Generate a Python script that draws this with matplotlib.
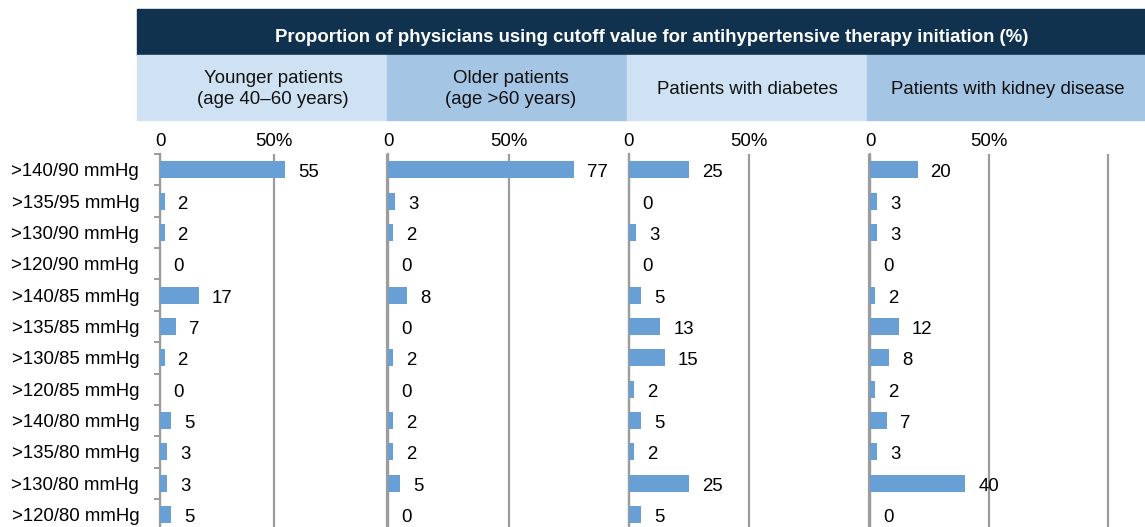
import matplotlib.pyplot as plt
from matplotlib.patches import Rectangle
from matplotlib.ticker import FixedLocator

plt.rcParams['font.family'] = ['Liberation Sans', 'DejaVu Sans']

# Categories (cutoff values) and percentages per patient group
cutoffs = ['>140/90 mmHg', '>135/95 mmHg', '>130/90 mmHg', '>120/90 mmHg',
           '>140/85 mmHg', '>135/85 mmHg', '>130/85 mmHg', '>120/85 mmHg',
           '>140/80 mmHg', '>135/80 mmHg', '>130/80 mmHg', '>120/80 mmHg']
younger = [55, 2, 2, 0, 17, 7, 2, 0, 5, 3, 3, 5]
older = [77, 3, 2, 0, 8, 0, 2, 0, 2, 2, 5, 0]
diabetes = [25, 0, 3, 0, 5, 13, 15, 2, 5, 2, 25, 5]
kidney = [20, 3, 3, 0, 2, 12, 8, 2, 7, 3, 40, 0]

groups = ['Younger patients\n(age 40\u201360 years)', 'Older patients\n(age >60 years)',
          'Patients with diabetes', 'Patients with kidney disease']
title = 'Proportion of physicians using cutoff value for antihypertensive therapy initiation (%)'
xtick_labels = ['0', '50%', '']

W, H = 1145, 527
fig = plt.figure(figsize=(W / 100, H / 100), dpi=100)

def rect(x0, y0, x1, y1):
    return [x0 / W, 1 - y1 / H, (x1 - x0) / W, (y1 - y0) / H]

navy = '#11324f'
light = '#cfe2f3'
mid = '#a5c5e4'
bar_col = '#689fd5'
grid_col = '#9c9c9c'
fs = 13.4

# header bands
fig.add_artist(Rectangle((137 / W, 1 - 55 / H), (W - 137) / W, 46 / H,
                         transform=fig.transFigure, color=navy, zorder=0))
fig.text(652 / W, 1 - 38 / H, title, color='white', fontsize=fs, fontweight='bold',
         ha='center', va='center')

cells = [(137, 387), (387, 627), (627, 867), (867, 1145)]
cell_cols = [light, mid, light, mid]
text_x = [273, 511, 747, 1008]
for (c0, c1), col, tx, g in zip(cells, cell_cols, text_x, groups):
    fig.add_artist(Rectangle((c0 / W, 1 - 120 / H), (c1 - c0) / W, 65 / H,
                             transform=fig.transFigure, color=col, zorder=0))
    fig.text(tx / W, 1 - 89 / H, g, fontsize=fs, ha='center', va='center',
             linespacing=1.32, color='#111111')

# panels: pixel x-range and xlim max
panels = [(160, 387, 100), (388, 629, 100), (629, 869, 100), (870, 1145, 115.5)]
series = [younger, older, diabetes, kidney]
top, bottom = 154, 527
n = len(cutoffs)
ylow = -0.5 + (bottom - top) / 31.36

for i, ((x0, x1, xmax), vals) in enumerate(zip(panels, series)):
    ax = fig.add_axes(rect(x0, top, x1, bottom))
    ax.patch.set_alpha(0)
    y = list(range(n))
    ax.barh(y, vals, height=0.54, color=bar_col, linewidth=0, zorder=3)
    for yi, v in zip(y, vals):
        ax.annotate(str(v), (v, yi), xytext=(13, -3), textcoords='offset pixels',
                    ha='left', va='center', fontsize=fs, zorder=4)
    ax.set_xlim(0, xmax)
    ax.set_ylim(ylow, -0.5)
    ax.xaxis.tick_top()
    ax.set_xticks([0, 50, 100])
    ax.set_xticklabels(xtick_labels, fontsize=fs)
    ax.tick_params(axis='x', length=0, pad=3)
    ax.grid(axis='x', color=grid_col, linewidth=1.6, zorder=1)
    for s in ['top', 'right', 'bottom']:
        ax.spines[s].set_visible(False)
    ax.spines['left'].set_color(grid_col)
    ax.spines['left'].set_linewidth(1.6)
    if i == 0:
        ax.set_yticks(y)
        ax.set_yticklabels(cutoffs, fontsize=fs)
        ax.tick_params(axis='y', which='major', length=0, pad=15)
        ax.yaxis.set_minor_locator(FixedLocator([k - 0.5 for k in range(n + 1)]))
        ax.tick_params(axis='y', which='minor', length=4, width=1.4, color=grid_col)
    else:
        ax.set_yticks([])

fig.savefig('out.png', dpi=100)
